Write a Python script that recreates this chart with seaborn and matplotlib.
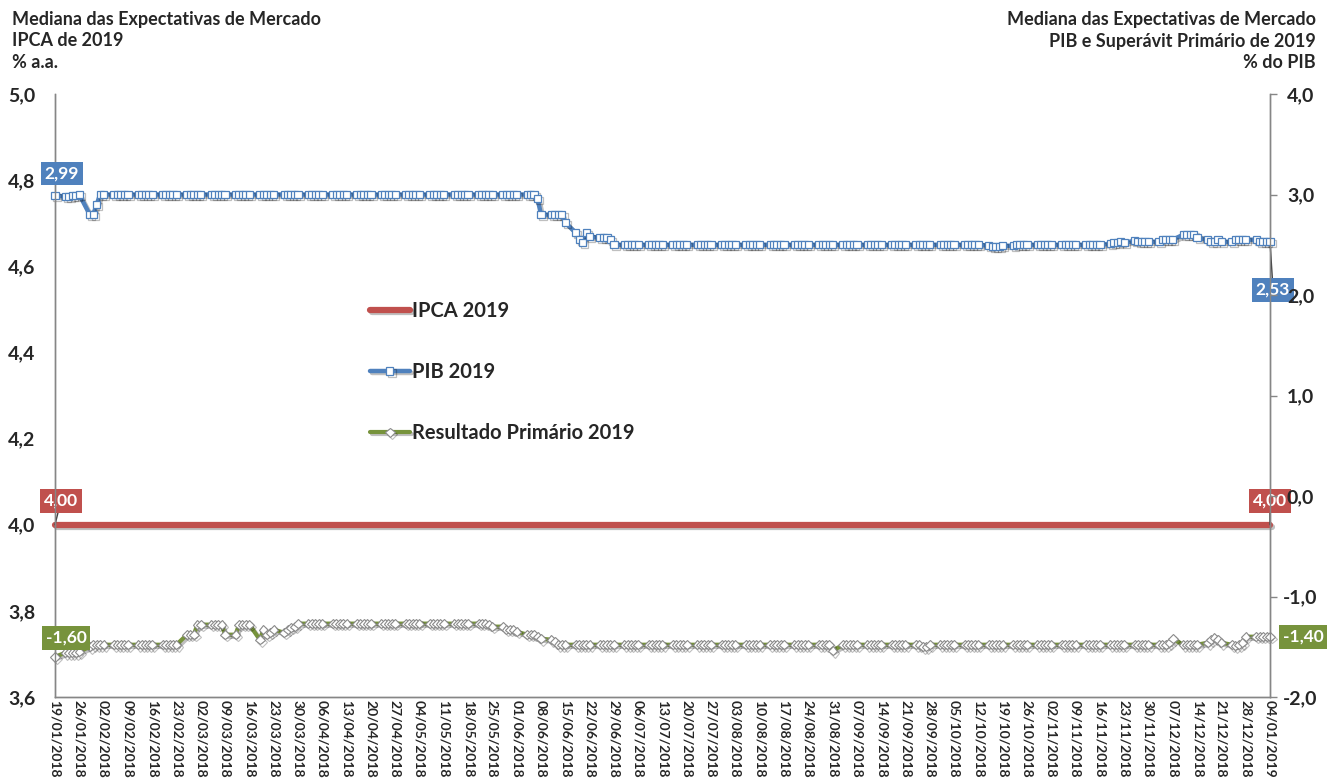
import matplotlib
matplotlib.use("Agg")
import matplotlib.pyplot as plt
import matplotlib.patheffects as pe
import pandas as pd
import seaborn as sns

sns.set_style("white")
plt.rcParams["font.family"] = ["Lato", "DejaVu Sans"]

# business days 19/01/2018 .. 04/01/2019 (first row = Fri 19/01, then one row per week)
dates = pd.bdate_range("2018-01-19", "2019-01-04")
tick_dates = pd.date_range("2018-01-19", "2019-01-04", freq="7D")

ipca_2019 = [
    4.00,
    4.00, 4.00, 4.00, 4.00, 4.00, 4.00, 4.00, 4.00, 4.00, 4.00,
    4.00, 4.00, 4.00, 4.00, 4.00, 4.00, 4.00, 4.00, 4.00, 4.00,
    4.00, 4.00, 4.00, 4.00, 4.00, 4.00, 4.00, 4.00, 4.00, 4.00,
    4.00, 4.00, 4.00, 4.00, 4.00, 4.00, 4.00, 4.00, 4.00, 4.00,
    4.00, 4.00, 4.00, 4.00, 4.00, 4.00, 4.00, 4.00, 4.00, 4.00,
    4.00, 4.00, 4.00, 4.00, 4.00, 4.00, 4.00, 4.00, 4.00, 4.00,
    4.00, 4.00, 4.00, 4.00, 4.00, 4.00, 4.00, 4.00, 4.00, 4.00,
    4.00, 4.00, 4.00, 4.00, 4.00, 4.00, 4.00, 4.00, 4.00, 4.00,
    4.00, 4.00, 4.00, 4.00, 4.00, 4.00, 4.00, 4.00, 4.00, 4.00,
    4.00, 4.00, 4.00, 4.00, 4.00, 4.00, 4.00, 4.00, 4.00, 4.00,
    4.00, 4.00, 4.00, 4.00, 4.00, 4.00, 4.00, 4.00, 4.00, 4.00,
    4.00, 4.00, 4.00, 4.00, 4.00, 4.00, 4.00, 4.00, 4.00, 4.00,
    4.00, 4.00, 4.00, 4.00, 4.00, 4.00, 4.00, 4.00, 4.00, 4.00,
    4.00, 4.00, 4.00, 4.00, 4.00, 4.00, 4.00, 4.00, 4.00, 4.00,
    4.00, 4.00, 4.00, 4.00, 4.00, 4.00, 4.00, 4.00, 4.00, 4.00,
    4.00, 4.00, 4.00, 4.00, 4.00, 4.00, 4.00, 4.00, 4.00, 4.00,
    4.00, 4.00, 4.00, 4.00, 4.00, 4.00, 4.00, 4.00, 4.00, 4.00,
    4.00, 4.00, 4.00, 4.00, 4.00, 4.00, 4.00, 4.00, 4.00, 4.00,
    4.00, 4.00, 4.00, 4.00, 4.00, 4.00, 4.00, 4.00, 4.00, 4.00,
    4.00, 4.00, 4.00, 4.00, 4.00, 4.00, 4.00, 4.00, 4.00, 4.00,
    4.00, 4.00, 4.00, 4.00, 4.00, 4.00, 4.00, 4.00, 4.00, 4.00,
    4.00, 4.00, 4.00, 4.00, 4.00, 4.00, 4.00, 4.00, 4.00, 4.00,
    4.00, 4.00, 4.00, 4.00, 4.00, 4.00, 4.00, 4.00, 4.00, 4.00,
    4.00, 4.00, 4.00, 4.00, 4.00, 4.00, 4.00, 4.00, 4.00, 4.00,
    4.00, 4.00, 4.00, 4.00, 4.00, 4.00, 4.00, 4.00, 4.00, 4.00,
]

pib_2019 = [
    2.99,
    2.98, 2.98, 2.99, 2.99, 3.00,
    2.80, 2.80, 2.90, 3.00, 3.00,
    3.00, 3.00, 3.00, 3.00, 3.00,
    3.00, 3.00, 3.00, 3.00, 3.00,
    3.00, 3.00, 3.00, 3.00, 3.00,
    3.00, 3.00, 3.00, 3.00, 3.00,
    3.00, 3.00, 3.00, 3.00, 3.00,
    3.00, 3.00, 3.00, 3.00, 3.00,
    3.00, 3.00, 3.00, 3.00, 3.00,
    3.00, 3.00, 3.00, 3.00, 3.00,
    3.00, 3.00, 3.00, 3.00, 3.00,
    3.00, 3.00, 3.00, 3.00, 3.00,
    3.00, 3.00, 3.00, 3.00, 3.00,
    3.00, 3.00, 3.00, 3.00, 3.00,
    3.00, 3.00, 3.00, 3.00, 3.00,
    3.00, 3.00, 3.00, 3.00, 3.00,
    3.00, 3.00, 3.00, 3.00, 3.00,
    3.00, 3.00, 3.00, 3.00, 3.00,
    3.00, 3.00, 3.00, 3.00, 3.00,
    3.00, 3.00, 3.00, 2.96, 2.80,
    2.80, 2.80, 2.80, 2.80, 2.72,
    2.62, 2.55, 2.52, 2.62, 2.58,
    2.57, 2.57, 2.57, 2.55, 2.50,
    2.50, 2.50, 2.50, 2.50, 2.50,
    2.50, 2.50, 2.50, 2.50, 2.50,
    2.50, 2.50, 2.50, 2.50, 2.50,
    2.50, 2.50, 2.50, 2.50, 2.50,
    2.50, 2.50, 2.50, 2.50, 2.50,
    2.50, 2.50, 2.50, 2.50, 2.50,
    2.50, 2.50, 2.50, 2.50, 2.50,
    2.50, 2.50, 2.50, 2.50, 2.50,
    2.50, 2.50, 2.50, 2.50, 2.50,
    2.50, 2.50, 2.50, 2.50, 2.50,
    2.50, 2.50, 2.50, 2.50, 2.50,
    2.50, 2.50, 2.50, 2.50, 2.50,
    2.50, 2.50, 2.50, 2.50, 2.50,
    2.50, 2.50, 2.50, 2.50, 2.50,
    2.50, 2.50, 2.50, 2.50, 2.50,
    2.49, 2.48, 2.48, 2.48, 2.49,
    2.49, 2.50, 2.50, 2.50, 2.50,
    2.50, 2.50, 2.50, 2.50, 2.50,
    2.50, 2.50, 2.50, 2.50, 2.50,
    2.50, 2.50, 2.50, 2.50, 2.50,
    2.51, 2.52, 2.52, 2.53, 2.52,
    2.54, 2.53, 2.53, 2.53, 2.53,
    2.53, 2.55, 2.55, 2.55, 2.55,
    2.60, 2.60, 2.60, 2.60, 2.57,
    2.55, 2.53, 2.53, 2.55, 2.53,
    2.53, 2.55, 2.55, 2.55, 2.55,
    2.55, 2.53, 2.53, 2.53, 2.53,
]

primario_2019 = [
    -1.60,
    -1.56, -1.56, -1.56, -1.56, -1.55,
    -1.50, -1.48, -1.48, -1.48, -1.48,
    -1.48, -1.48, -1.48, -1.48, -1.48,
    -1.48, -1.48, -1.48, -1.48, -1.48,
    -1.48, -1.48, -1.48, -1.48, -1.48,
    -1.38, -1.38, -1.38, -1.28, -1.28,
    -1.28, -1.28, -1.28, -1.28, -1.38,
    -1.38, -1.28, -1.28, -1.28, -1.28,
    -1.43, -1.33, -1.38, -1.36, -1.33,
    -1.36, -1.33, -1.31, -1.30, -1.27,
    -1.27, -1.27, -1.27, -1.27, -1.27,
    -1.27, -1.27, -1.27, -1.27, -1.27,
    -1.27, -1.27, -1.27, -1.27, -1.27,
    -1.27, -1.27, -1.27, -1.27, -1.27,
    -1.27, -1.27, -1.27, -1.27, -1.27,
    -1.27, -1.27, -1.27, -1.27, -1.27,
    -1.27, -1.27, -1.27, -1.27, -1.27,
    -1.27, -1.27, -1.27, -1.28, -1.30,
    -1.30, -1.33, -1.33, -1.33, -1.35,
    -1.38, -1.38, -1.38, -1.40, -1.42,
    -1.43, -1.45, -1.48, -1.48, -1.48,
    -1.48, -1.48, -1.48, -1.48, -1.48,
    -1.48, -1.48, -1.48, -1.48, -1.48,
    -1.48, -1.48, -1.48, -1.48, -1.48,
    -1.48, -1.48, -1.48, -1.48, -1.48,
    -1.48, -1.48, -1.48, -1.48, -1.48,
    -1.48, -1.48, -1.48, -1.48, -1.48,
    -1.48, -1.48, -1.48, -1.48, -1.48,
    -1.48, -1.48, -1.48, -1.48, -1.48,
    -1.48, -1.48, -1.48, -1.48, -1.48,
    -1.48, -1.48, -1.48, -1.48, -1.48,
    -1.48, -1.48, -1.48, -1.48, -1.54,
    -1.48, -1.48, -1.48, -1.48, -1.48,
    -1.48, -1.48, -1.48, -1.48, -1.48,
    -1.48, -1.48, -1.48, -1.48, -1.48,
    -1.48, -1.48, -1.50, -1.50, -1.48,
    -1.48, -1.48, -1.48, -1.48, -1.48,
    -1.48, -1.48, -1.48, -1.48, -1.48,
    -1.48, -1.48, -1.48, -1.48, -1.48,
    -1.48, -1.48, -1.48, -1.48, -1.48,
    -1.48, -1.48, -1.48, -1.48, -1.48,
    -1.48, -1.48, -1.48, -1.48, -1.48,
    -1.48, -1.48, -1.48, -1.48, -1.48,
    -1.48, -1.48, -1.48, -1.48, -1.48,
    -1.48, -1.48, -1.48, -1.48, -1.48,
    -1.48, -1.48, -1.48, -1.46, -1.42,
    -1.48, -1.48, -1.48, -1.48, -1.48,
    -1.46, -1.43, -1.41, -1.43, -1.46,
    -1.48, -1.49, -1.48, -1.46, -1.40,
    -1.40, -1.40, -1.40, -1.40, -1.40,
]

left_ticks = [3.6, 3.8, 4.0, 4.2, 4.4, 4.6, 4.8, 5.0]
right_ticks = [-2.0, -1.0, 0.0, 1.0, 2.0, 3.0, 4.0]

df = pd.DataFrame({"data": dates, "ipca": ipca_2019, "pib": pib_2019, "primario": primario_2019})

red = "#C0504D"
blue = "#4F81BD"
green = "#77933C"
gray = "#868686"

W, H = 1327, 784
fig = plt.figure(figsize=(W / 100, H / 100), dpi=100)
ax = fig.add_axes([55 / W, 1 - 697 / H, 1215 / W, 603 / H])
ax2 = ax.twinx()

shadow = [pe.SimpleLineShadow(offset=(1.5, -1.5), shadow_color="black", alpha=0.25), pe.Normal()]

sns.lineplot(data=df, x="data", y="ipca", ax=ax, color=red, linewidth=4.5)
l_ipca = ax.lines[-1]

sns.lineplot(data=df, x="data", y="pib", ax=ax2, color=blue, linewidth=3.2,
             marker="s", markersize=5.2, markerfacecolor="white", markeredgecolor=blue, markeredgewidth=0.9)
l_pib = ax2.lines[-1]
sns.lineplot(data=df, x="data", y="primario", ax=ax2, color=green, linewidth=3,
             marker="D", markersize=4.8, markerfacecolor="white", markeredgecolor="#8a8a8a", markeredgewidth=0.8)
l_prim = ax2.lines[-1]

for ln in (l_ipca, l_pib, l_prim):
    ln.set_path_effects(shadow)
    ln.set_clip_on(False)

ax.set_xlim(dates[0], dates[-1])
ax.set_ylim(3.6, 5.0)
ax2.set_ylim(-2.0, 4.0)

ax.set_xticks(tick_dates)
ax.set_xticklabels([d.strftime("%d/%m/%Y") for d in tick_dates], rotation=-90,
                   fontsize=10, fontweight="bold", ha="center", va="top")
ax.set_yticks(left_ticks)
ax.set_yticklabels([f"{v:.1f}".replace(".", ",") for v in left_ticks], fontsize=14, fontweight="bold")
ax2.set_yticks(right_ticks)
ax2.set_yticklabels([f"{v:.1f}".replace(".", ",") for v in right_ticks], fontsize=14, fontweight="bold")
for lbl in ax2.get_yticklabels():
    lbl.set_horizontalalignment("center")

ax.tick_params(axis="y", length=0, pad=14)
ax.tick_params(axis="x", length=0, pad=2)
ax2.tick_params(axis="y", length=5, width=1, color=gray, pad=17)
ax.set_xlabel("")
ax.set_ylabel("")
ax2.set_ylabel("")

for a in (ax, ax2):
    a.spines["top"].set_visible(False)
    for s in ("left", "right", "bottom"):
        a.spines[s].set_color(gray)
        a.spines[s].set_linewidth(1)

ax.set_zorder(0)
ax2.set_zorder(1)
ax2.patch.set_visible(False)

# data labels
def tag(axis, text, xy, off, color, leader=False, z=10):
    kw = dict(arrowprops=dict(arrowstyle="-", color="#404040", lw=1, shrinkA=0, shrinkB=0)) if leader else {}
    axis.annotate(text, xy=xy, xytext=off, textcoords="offset points", ha="center", va="center",
                  fontsize=12.5, fontweight="bold", color="white", annotation_clip=False, zorder=z,
                  bbox=dict(boxstyle="square,pad=0.22", fc=color, ec="none"), **kw)

tag(ax, "4,00", (dates[0], ipca_2019[0]), (4.3, 17.3), red, leader=True)
tag(ax, "4,00", (dates[-1], ipca_2019[-1]), (0, 17.3), red, leader=True)
tag(ax2, "2,99", (dates[0], pib_2019[0]), (5, 15.8), blue)
tag(ax2, "2,53", (dates[-1], pib_2019[-1]), (2.2, -34.6), blue, leader=True, z=0.3)
tag(ax2, "-1,60", (dates[0], primario_2019[0]), (7.9, 13.7), green)
tag(ax2, "-1,40", (dates[-1], primario_2019[-1]), (23.8, 0), green)

leg = ax2.legend([l_ipca, l_pib, l_prim], ["IPCA 2019", "PIB 2019", "Resultado Primário 2019"],
                 loc="center left", bbox_to_anchor=(0.259, 0.539), frameon=False,
                 prop=dict(weight="bold", size=14.5), handlelength=2.0, handletextpad=0.1,
                 labelspacing=2.05, borderpad=0, borderaxespad=0)

hdr = dict(fontsize=13, fontweight="bold", va="center")
fig.text(12 / W, 1 - 19 / H, "Mediana das Expectativas de Mercado", ha="left", **hdr)
fig.text(12 / W, 1 - 41 / H, "IPCA de 2019", ha="left", **hdr)
fig.text(12 / W, 1 - 63 / H, "% a.a.", ha="left", **hdr)
fig.text(1316 / W, 1 - 19 / H, "Mediana das Expectativas de Mercado", ha="right", **hdr)
fig.text(1316 / W, 1 - 41 / H, "PIB e Superávit Primário de 2019", ha="right", **hdr)
fig.text(1316 / W, 1 - 63 / H, "% do PIB", ha="right", **hdr)

fig.savefig("out.png", dpi=100)
